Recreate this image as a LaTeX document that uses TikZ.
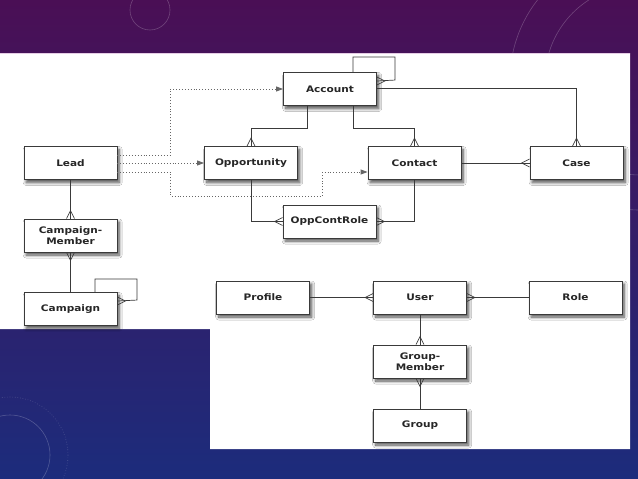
\documentclass[tikz,border=0pt]{standalone}
\usepackage{fontspec}
\setmainfont{DejaVu Sans}
\newfontfamily\entfont[FakeStretch=1.17]{DejaVu Sans}
\usetikzlibrary{arrows.meta,shadows.blur,calc}
\definecolor{bgtop}{HTML}{4A0F55}
\definecolor{bgmid}{HTML}{33206E}
\definecolor{bgbot}{HTML}{1C2C7C}
\definecolor{linec}{HTML}{3A3A3A}
\begin{document}
\begin{tikzpicture}[x=1pt,y=-1pt,
  ent/.style={draw=linec, line width=0.9pt, fill=white, minimum width=93pt,
    minimum height=33pt, inner sep=1pt, align=center,
    font=\entfont\fontsize{9}{10.5}\selectfont\bfseries, text=black!85,
    blur shadow={shadow xshift=2.2pt, shadow yshift=-3pt, shadow blur radius=3pt, shadow blur steps=8, shadow opacity=70}},
  rel/.style={draw=linec, line width=0.7pt},
  dotc/.style={draw=black!60, line width=0.9pt, dotted, -{Triangle[length=7pt,width=5pt]}},
  deco/.style={draw=white, opacity=0.22, line width=0.6pt},
  crowN/.pic={\draw[rel] (-4,0) -- (0,-8) -- (4,0);},
  crowS/.pic={\draw[rel] (-4,0) -- (0,8) -- (4,0);},
  crowW/.pic={\draw[rel] (0,-4) -- (-8,0) -- (0,4);},
  crowE/.pic={\draw[rel] (0,-4) -- (8,0) -- (0,4);}
]
\useasboundingbox (0,0) rectangle (638,479);
% background
\shade[top color=bgtop, middle color=bgmid, bottom color=bgbot] (0,0) rectangle (638,479);
\draw[deco] (150,10) circle (20);
\draw[deco] (640,80) circle (95);
\draw[deco] (640,80) circle (130);
\draw[deco] (10,455) circle (40);
\draw[deco, dotted] (10,455) circle (58);
% white panel
\fill[white] (0,53) -- (630,53) -- (630,449) -- (210,449) -- (210,329) -- (0,329) -- cycle;
\draw[white!80!violet, line width=0.6pt] (0,53) -- (630,53);

% entities
\node[ent] (acc)  at (330,89)    {Account};
\node[ent] (lead) at (70.5,163)  {Lead};
\node[ent] (opp)  at (251,163)   {Opportunity};
\node[ent] (con)  at (414.5,163) {Contact};
\node[ent] (case) at (576.5,163) {Case};
\node[ent] (ocr)  at (329.5,221.5) {OppContRole};
\node[ent] (cm)   at (70.5,235.5) {Campaign-\\Member};
\node[ent] (camp) at (70.5,309)  {Campaign};
\node[ent] (prof) at (263,297.5) {Profile};
\node[ent] (user) at (420,297.5) {User};
\node[ent] (role) at (575.5,297.5) {Role};
\node[ent] (gm)   at (420,361.5) {Group-\\Member};
\node[ent] (grp)  at (420,425.5) {Group};

% relations
\draw[rel] ([xshift=-23pt]acc.south) -- ++(0,22) -| (opp.north);
\pic at (opp.north) {crowN};
\draw[rel] ([xshift=23pt]acc.south) -- ++(0,22) -| (con.north);
\pic at (con.north) {crowN};
\draw[rel] ([yshift=1pt]acc.east) -| (case.north);
\pic at (case.north) {crowN};
\draw[rel] ([xshift=23pt]acc.north) -- ++(0,-15) -- ++(42,0) -- ++(0,23) -- ([yshift=8pt]acc.east);
\pic at ([yshift=8pt]acc.east) {crowE};
\draw[rel] (con.east) -- (case.west);
\pic at (case.west) {crowW};
\draw[rel] (con.south) |- (ocr.east);
\pic at (ocr.east) {crowE};
\draw[rel] (opp.south) |- (ocr.west);
\pic at (ocr.west) {crowW};
\draw[rel] (lead.south) -- (cm.north);
\pic at (cm.north) {crowN};
\draw[rel] (camp.north) -- (cm.south);
\pic at (cm.south) {crowS};
\draw[rel] ([xshift=24.5pt]camp.north) -- ++(0,-13) -- ++(42,0) -- ++(0,21) -- ([yshift=8pt]camp.east);
\pic at ([yshift=8pt]camp.east) {crowE};
\draw[rel] (prof.east) -- (user.west);
\pic at (user.west) {crowW};
\draw[rel] (role.west) -- (user.east);
\pic at (user.east) {crowE};
\draw[rel] (user.south) -- (gm.north);
\pic at (gm.north) {crowN};
\draw[rel] (grp.north) -- (gm.south);
\pic at (gm.south) {crowS};

% dotted conversions from Lead
\draw[dotc] ([yshift=8pt]lead.east) -- ++(53,0) |- (acc.west);
\draw[dotc] (lead.east) -- (opp.west);
\draw[dotc] ([yshift=-9pt]lead.east) -- ++(53,0) -- ++(0,24) -- ++(152,0) |- ([yshift=-9pt]con.west);
\end{tikzpicture}
\end{document}
